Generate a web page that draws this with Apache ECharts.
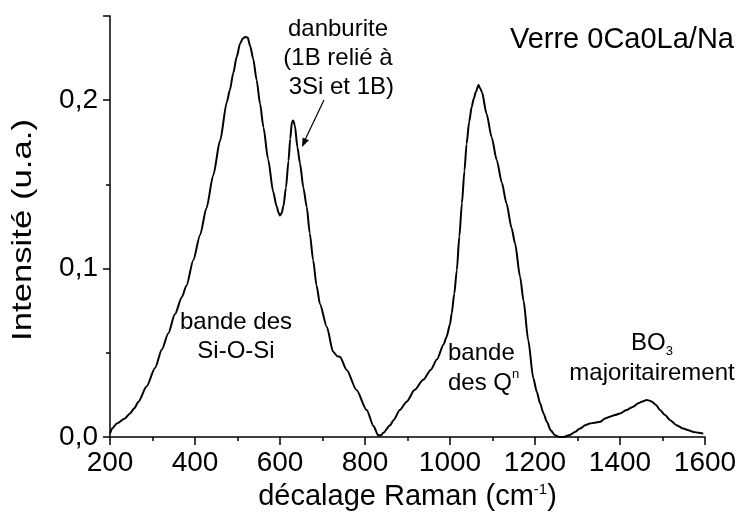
<!DOCTYPE html>
<html>
<head>
<meta charset="utf-8">
<script src="https://cdn.jsdelivr.net/npm/echarts@6/dist/echarts.min.js"></script>
<style>
html,body{margin:0;padding:0;background:#fff;}
#chart{width:741px;height:521px;}
</style>
</head>
<body>
<div id="chart"></div>
<script>
// Raman shift (cm-1)
var ramanShift = [200,205,216,235,247,257,267,286,306,322,337,353,369,380,396,412,427,443,459,475,482,490,498,506,512,518,524,530,537,545,553,561,572,584,592,597,600,604,608,614,620,624,628,631,635,641,647,655,663,670,678,686,694,710,725,735,741,757,780,804,820,831,838,843,859,867,882,898,917,937,955,969,985,992,1000,1004,1010,1016,1022,1028,1034,1039,1045,1051,1056,1061,1067,1071,1075,1086,1098,1110,1122,1133,1145,1153,1165,1173,1184,1196,1204,1212,1220,1228,1237,1247,1257,1267,1282,1294,1306,1318,1329,1341,1353,1365,1376,1388,1400,1415,1431,1443,1451,1463,1470,1475,1485,1494,1506,1518,1533,1549,1561,1573,1585,1596];
// Intensity (u.a.)
var intensity = [0.002,0.005,0.008,0.011,0.014,0.017,0.021,0.030,0.041,0.052,0.0615,0.073,0.083,0.090,0.105,0.120,0.136,0.1555,0.176,0.199,0.206,0.216,0.2256,0.2335,0.2365,0.2376,0.2372,0.232,0.2245,0.212,0.198,0.184,0.165,0.1456,0.137,0.133,0.1315,0.133,0.137,0.148,0.164,0.177,0.187,0.188,0.185,0.172,0.1626,0.148,0.1365,0.121,0.105,0.090,0.079,0.0655,0.0506,0.048,0.0477,0.0398,0.0279,0.016,0.0065,0.001,0.001,0.0025,0.007,0.010,0.016,0.021,0.028,0.034,0.040,0.046,0.055,0.0595,0.067,0.0734,0.085,0.099,0.119,0.1387,0.158,0.174,0.187,0.196,0.201,0.205,0.209,0.207,0.205,0.192,0.178,0.1644,0.151,0.1387,0.124,0.115,0.095,0.081,0.0576,0.035,0.027,0.020,0.014,0.009,0.004,0.001,0.0,0.0,0.0012,0.003,0.005,0.007,0.008,0.0085,0.009,0.011,0.012,0.013,0.014,0.016,0.018,0.020,0.021,0.022,0.0215,0.021,0.019,0.016,0.013,0.010,0.007,0.005,0.004,0.003,0.0025,0.002];
var xTicks = [200,400,600,800,1000,1200,1400,1600];
var yTicks = ['0,0','0,1','0,2'];

var FF = '"Liberation Sans", Arial, sans-serif';
var data = ramanShift.map(function(x,i){return [x, intensity[i]];});

var chart = echarts.init(document.getElementById('chart'));
chart.setOption({
  backgroundColor:'#fff',
  animation:false,
  grid:{left:110,right:36,top:16,bottom:84},
  xAxis:{
    type:'value', min:200, max:1600, interval:200,
    name:'décalage Raman (cm{sup|-1})',
    nameLocation:'middle', nameGap:45,
    nameTextStyle:{color:'#000',fontSize:29,fontFamily:FF,
      rich:{sup:{fontSize:15,verticalAlign:'top',color:'#000',fontFamily:FF}}},
    axisLine:{onZero:false,lineStyle:{color:'#000',width:1.5}},
    axisTick:{show:true,inside:false,length:8,lineStyle:{color:'#000',width:1.5}},
    minorTick:{show:true,splitNumber:2,length:4,lineStyle:{color:'#000',width:1.5}},
    splitLine:{show:false},
    axisLabel:{color:'#000',fontSize:28,fontFamily:FF,margin:12,
      formatter:function(v){return xTicks.indexOf(v)>=0?String(v):'';}}
  },
  yAxis:{
    type:'value', min:0, max:0.25, interval:0.1,
    axisLine:{show:true,lineStyle:{color:'#000',width:1.5}},
    axisTick:{show:true,inside:false,length:7,lineStyle:{color:'#000',width:1.5}},
    minorTick:{show:true,splitNumber:2,length:4,lineStyle:{color:'#000',width:1.5}},
    splitLine:{show:false},
    axisLabel:{color:'#000',fontSize:28,fontFamily:FF,margin:12,
      formatter:function(v){var i=Math.round(v*10);return (Math.abs(v*10-i)<1e-6 && yTicks[i])?yTicks[i]:'';}}
  },
  series:[{
    type:'line', data:data, showSymbol:false, symbol:'none',
    lineStyle:{color:'#000',width:2}, smooth:0.25, smoothMonotone:'x'
  }],
  graphic:[
    {type:'text',x:23,y:230,rotation:Math.PI/2,scaleX:1.24,
      style:{text:'Intensité (u.a.)',x:0,y:0,align:'center',verticalAlign:'middle',fontSize:28,fontFamily:FF,fill:'#000'}},
    {type:'text',style:{text:'Verre 0Ca0La/Na',x:734,y:40,align:'right',verticalAlign:'middle',fontSize:29,fontFamily:FF,fill:'#000'}},
    {type:'text',style:{text:'danburite\n(1B relié à\n 3Si et 1B)',x:338,y:15,align:'center',verticalAlign:'top',fontSize:24,lineHeight:29,fontFamily:FF,fill:'#000'}},
    {type:'line',shape:{x1:324,y1:100,x2:304,y2:142},style:{stroke:'#000',lineWidth:1.2}},
    {type:'polygon',shape:{points:[[302,147],[309,140.3],[302.6,137.4]]},style:{fill:'#000'}},
    {type:'text',style:{text:'bande des\nSi-O-Si',x:236,y:308,align:'center',verticalAlign:'top',fontSize:24,lineHeight:29,fontFamily:FF,fill:'#000'}},
    {type:'text',style:{text:'bande\ndes Q{sup|n}',x:448,y:338,align:'left',verticalAlign:'top',fontSize:24,lineHeight:30,fontFamily:FF,fill:'#000',
      rich:{sup:{fontSize:13,verticalAlign:'top',lineHeight:30,fontFamily:FF,fill:'#000'}}}},
    {type:'text',style:{text:'BO{sub|3}\nmajoritairement',x:652,y:328,align:'center',verticalAlign:'top',fontSize:24,lineHeight:30,fontFamily:FF,fill:'#000',
      rich:{sub:{fontSize:13,verticalAlign:'bottom',lineHeight:30,fontFamily:FF,fill:'#000'}}}}
  ]
});
</script>
</body>
</html>
